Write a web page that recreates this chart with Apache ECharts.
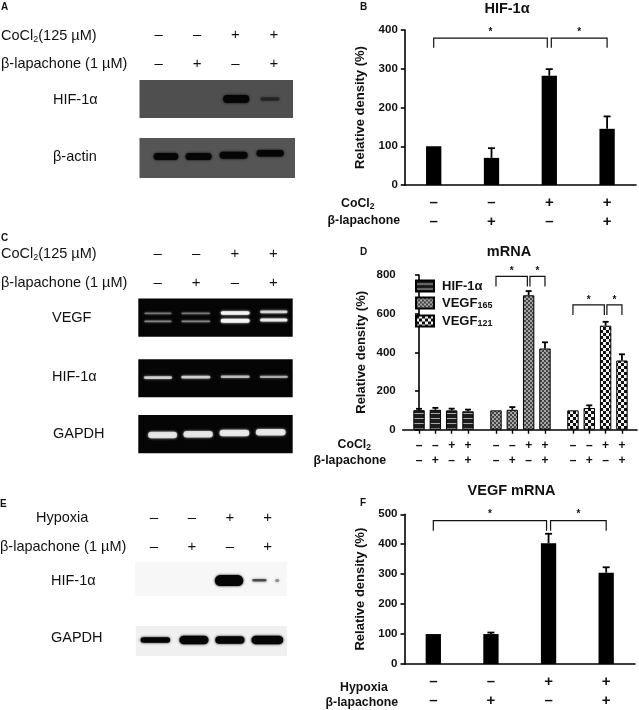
<!DOCTYPE html>
<html><head><meta charset="utf-8">
<style>html,body{margin:0;padding:0;background:#fff}#c{width:639px;height:710px;filter:blur(0.4px)}</style>
<script src="https://cdn.jsdelivr.net/npm/echarts@6/dist/echarts.min.js"></script>
</head><body><div id="c"></div>
<script>
// ---------- data ----------
const condCo = ['–','–','+','+'];
const condLap = ['–','+','–','+'];
const condHyp = ['–','–','+','+'];

const hifMean = [100,70,282,145];
const hifTop  = [100,95,299,177];

const mrnaHif  = [101,103,100,95];
const mrnaHifTop = [108,113,109,104];
const mrna165  = [100,103,695,420];
const mrna165Top = [100,117,717,452];
const mrna121  = [100,112,538,358];
const mrna121Top = [100,126,558,390];

const vegfMean = [100,100,403,305];
const vegfTop  = [100,105,435,323];

// brackets: from, to, top value, low value, inset at from, inset at to
const hifBrackets  = [[0,2,379,354,0,1],[2,3,379,354,1,0]];
const vegfBrackets = [[0,2,479,445,0,1],[2,3,479,445,1,0]];
// mRNA brackets: group, bar from, bar to, top, low, insets
const mrnaBrackets = [[1,0,2,793,740,0,1],[1,2,3,793,740,1,0],[2,0,2,645,593,0,1],[2,2,3,645,593,1,0]];

// blot bands: lane position, height fraction, lane width, thickness, strength
const bandsAHif = [[2.52,.50,.68,8,1],[3.40,.50,.50,3.5,.4]];
const bandsAAct = [[.68,.46,.63,7,1],[1.52,.46,.67,7,1],[2.42,.43,.72,7,1],[3.36,.38,.70,6.5,1]];
const bandsCVegf = [[.51,.39,.71,1.6,.36],[.51,.60,.71,1.8,.42],[1.49,.39,.75,1.6,.36],[1.49,.60,.75,1.8,.42],
  [2.51,.38,.75,3.6,1],[2.51,.58,.75,4,1],[3.51,.35,.71,2.6,.75],[3.51,.56,.71,3,.9]];
const bandsCHif = [[.51,.48,.73,2.8,.72],[1.49,.47,.75,2.8,.72],[2.51,.46,.75,2.6,.62],[3.51,.46,.73,2.2,.55]];
const bandsCGapdh = [[.63,.52,.75,6.5,.82],[1.55,.50,.76,6.5,.82],[2.49,.47,.77,6.5,.85],[3.43,.45,.77,6.5,.85]];
const bandsEHif = [[2.48,.55,.75,11,1],[3.28,.54,.38,2.6,.55],[3.75,.55,.11,3,.3]];
const bandsEGapdh = [[.52,.47,.78,5.5,1],[1.54,.47,.77,8.5,1],[2.49,.47,.77,7.5,1],[3.48,.47,.84,8.5,1]];

const FONT = '"Liberation Sans", Arial, sans-serif';

// ---------- fill patterns ----------
function tile(w,h,draw){const c=document.createElement('canvas');c.width=w;c.height=h;draw(c.getContext('2d'));return {image:c,repeat:'repeat'};}
const patHif = tile(2,5,g=>{g.fillStyle='#1c1c1c';g.fillRect(0,0,2,5);g.fillStyle='#a8a8a8';g.fillRect(0,3,2,1);});
const pat165 = tile(4,4,g=>{g.fillStyle='#a6a6a6';g.fillRect(0,0,4,4);g.fillStyle='#444';g.fillRect(0,0,2,2);g.fillRect(2,2,2,2);});
const pat121 = tile(6,6,g=>{g.fillStyle='#f2f2f2';g.fillRect(0,0,6,6);g.fillStyle='#111';g.fillRect(0,0,3,3);g.fillRect(3,3,3,3);});

// ---------- layout ----------
const grids = [], xAxes = [], yAxes = [], series = [];
function addGrid(left,right,top,bottom,bg){
  grids.push({left,top,width:right-left,height:bottom-top,show:!!bg,backgroundColor:bg||'transparent',borderWidth:0,containLabel:false});
  return grids.length-1;
}
function blot(left,right,top,bottom,bg,bands,color,rows){
  const g = addGrid(left,right,top,bottom,bg);
  const xi = xAxes.length;
  xAxes.push({gridIndex:g,type:'value',min:0,max:4,show:false});
  yAxes.push({gridIndex:g,type:'value',min:0,max:1,inverse:true,show:false});
  series.push({type:'custom',xAxisIndex:xi,yAxisIndex:yAxes.length-1,silent:true,data:bands,
    renderItem(p,api){
      const c=api.coord([api.value(0),api.value(1)]);
      const w=api.size([api.value(2),0])[0], h=api.value(3);
      return {type:'rect',shape:{x:c[0]-w/2,y:c[1]-h/2,width:w,height:h,r:h/2},
        style:{fill:color,opacity:api.value(4),shadowBlur:2.5,shadowColor:color}};
    }});
  if(rows){
    const cats=rows[0].map((_,i)=>rows.map(r=>r[i]).join('\n'));
    xAxes.push({gridIndex:g,type:'category',position:'top',data:cats,axisLine:{show:false},axisTick:{show:false},
      axisLabel:{interval:0,margin:rows.margin||1,lineHeight:rows.lh||29,fontFamily:FONT,fontSize:15,color:'#111'}});
  }
}
function errorBars(xi,yi,xs,means,tops,cap){
  series.push({type:'custom',xAxisIndex:xi,yAxisIndex:yi,silent:true,z:1,
    data:means.map((m,i)=>[xs(i),m,tops[i]]),
    renderItem(p,api){
      if(api.value(2)<=api.value(1)) return null;
      const a=api.coord([api.value(0),api.value(1)]), b=api.coord([api.value(0),api.value(2)]);
      const s={stroke:'#000',lineWidth:1.8,fill:null};
      return {type:'group',children:[
        {type:'line',shape:{x1:a[0],y1:a[1],x2:b[0],y2:b[1]},style:s},
        {type:'line',shape:{x1:b[0]-cap/2,y1:b[1],x2:b[0]+cap/2,y2:b[1]},style:s}]};
    }});
}
function bracketSeries(xi,yi,rows,starSize){
  series.push({type:'custom',xAxisIndex:xi,yAxisIndex:yi,silent:true,z:3,data:rows,
    renderItem(p,api){
      const INS=2;
      const f=api.value(0), t=api.value(1), top=api.value(2), low=api.value(3);
      const x1=api.coord([f,top])[0]+api.value(4)*INS, x2=api.coord([t,top])[0]-api.value(5)*INS;
      const y1=api.coord([f,top])[1], y2=api.coord([f,low])[1];
      return {type:'group',children:[
        {type:'polyline',shape:{points:[[x1,y2],[x1,y1],[x2,y1],[x2,y2]]},style:{stroke:'#111',lineWidth:1.2,fill:null}},
        {type:'text',style:{x:(x1+x2)/2,y:y1-1,text:'*',fill:'#111',font:'bold '+starSize+'px '+FONT,align:'center',verticalAlign:'bottom'}}]};
    }});
}
function axisY(g,max,interval,nameGap){
  return {gridIndex:g,type:'value',min:0,max,interval,
    name:'Relative density (%)',nameLocation:'middle',nameGap,nameRotate:90,
    nameTextStyle:{fontFamily:FONT,fontWeight:'bold',fontSize:13,color:'#111'},
    axisLine:{show:true,lineStyle:{color:'#000',width:1.6}},
    axisTick:{show:true,length:4,lineStyle:{color:'#000',width:1.6}},
    axisLabel:{margin:7,fontFamily:FONT,fontWeight:'bold',fontSize:11.5,color:'#111'},
    splitLine:{show:false}};
}
function simpleBars(left,right,top,bottom,rows,means,tops,max,interval,brackets){
  const g=addGrid(left,right,top,bottom);
  const cats=rows[0].map((_,i)=>rows.map(r=>r[i]).join('\n'));
  const xi=xAxes.length, yi=yAxes.length;
  xAxes.push({gridIndex:g,type:'category',data:cats,
    axisLine:{lineStyle:{color:'#000',width:1.6}},
    axisTick:{alignWithLabel:true,length:5,lineStyle:{color:'#000',width:1.6}},
    axisLabel:{interval:0,margin:9,lineHeight:18.5,fontFamily:FONT,fontWeight:'bold',fontSize:15,color:'#111'}});
  yAxes.push(axisY(g,max,interval,38));
  series.push({type:'bar',xAxisIndex:xi,yAxisIndex:yi,barWidth:15.3,silent:true,data:means,itemStyle:{color:'#000'}});
  errorBars(xi,yi,i=>i,means,tops,7);
  bracketSeries(xi,yi,brackets,10);
}

// --- blots
const rowsA=[condCo,condLap]; rowsA.margin=1.5; rowsA.lh=29;
blot(139.5,293,80,118,'#4f4f4f',bandsAHif,'#050505',rowsA);
blot(139.5,295,138,178,'#555555',bandsAAct,'#050505');
const rowsC=[condCo,condLap]; rowsC.margin=1; rowsC.lh=29;
blot(138.3,292.7,298.5,336.7,'#050505',bandsCVegf,'#f4f4f4',rowsC);
blot(138.3,292.7,359.3,397.3,'#050505',bandsCHif,'#f0f0f0');
blot(138.3,292.7,415,453.3,'#050505',bandsCGapdh,'#f0f0f0');
const rowsE=[condHyp,condLap]; rowsE.margin=1; rowsE.lh=28.5;
blot(135,286.7,561.7,596,'#f7f7f7',bandsEHif,'#050505',rowsE);
blot(135.7,287,626,656,'#f0f0f0',bandsEGapdh,'#050505');

// --- charts B and F
simpleBars(404.8,636,30,185,[condCo,condLap],hifMean,hifTop,400,100,hifBrackets);
simpleBars(404.5,635,514.3,667.7,[condHyp,condLap],vegfMean,vegfTop,500,100,vegfBrackets);

// --- chart D (three groups of four bars)
const GROUP_STEP = 4.714;
const pos = (g,i)=>g*GROUP_STEP+i;
const mrnaX = [0,1,2].flatMap(g=>[0,1,2,3].map(i=>pos(g,i)));
const mrnaRows = [condCo,condCo,condCo].flat().map((c,i)=>c+'\n'+[condLap,condLap,condLap].flat()[i]);
const gD = addGrid(402.7,637,275,429.7);
const xD = xAxes.length, yD = yAxes.length;
xAxes.push({gridIndex:gD,type:'value',min:-1,max:13.35,splitLine:{show:false},
  axisLine:{lineStyle:{color:'#000',width:1.6}},
  axisTick:{customValues:mrnaX,length:4,lineStyle:{color:'#000',width:1.4}},
  axisLabel:{customValues:mrnaX,margin:8,lineHeight:15,fontFamily:FONT,fontWeight:'bold',fontSize:12,color:'#111',
    formatter:v=>mrnaRows[mrnaX.indexOf(v)]}});
yAxes.push(axisY(gD,800,200,34.5));
[['HIF-1α',mrnaHif,mrnaHifTop,patHif,0],['VEGF165',mrna165,mrna165Top,pat165,1],['VEGF121',mrna121,mrna121Top,pat121,2]].forEach(([name,vals,tops,pat,g])=>{
  series.push({name,type:'bar',xAxisIndex:xD,yAxisIndex:yD,barWidth:11.4,barGap:'-100%',silent:true,
    data:vals.map((v,i)=>[pos(g,i),v]),itemStyle:{color:pat,borderColor:'#000',borderWidth:1}});
  errorBars(xD,yD,i=>pos(g,i),vals,tops,6);
});
series.push({type:'custom',xAxisIndex:xD,yAxisIndex:yD,silent:true,z:3,data:mrnaBrackets,
  renderItem(p,api){
    const INS=1.3, g=api.value(0);
    const top=api.value(3), low=api.value(4);
    const x1=api.coord([pos(g,api.value(1)),top])[0]+api.value(5)*INS;
    const x2=api.coord([pos(g,api.value(2)),top])[0]-api.value(6)*INS;
    const y1=api.coord([pos(g,0),top])[1], y2=api.coord([pos(g,0),low])[1];
    return {type:'group',children:[
      {type:'polyline',shape:{points:[[x1,y2],[x1,y1],[x2,y1],[x2,y2]]},style:{stroke:'#111',lineWidth:1.2,fill:null}},
      {type:'text',style:{x:(x1+x2)/2,y:y1,text:'*',fill:'#111',font:'bold 10px '+FONT,align:'center',verticalAlign:'bottom'}}]};
  }});

// ---------- text ----------
function txt(x,y,text,size,bold,align,rich){
  return {type:'text',silent:true,x,y,style:{text,fill:'#111',font:(bold?'bold ':'')+size+'px '+FONT,
    align:align||'left',verticalAlign:'middle',rich:rich}};
}
const subN = {sub:{fontSize:9,padding:[7,0,0,0],fontFamily:FONT,fill:'#111'}};
const subB = {sub:{fontSize:8.5,fontWeight:'bold',padding:[6,0,0,0],fontFamily:FONT,fill:'#111'}};
const texts = [
 txt(1,7,'A',10,true), txt(360,7,'B',10,true), txt(1,238,'C',10,true), txt(360,252,'D',10,true),
 txt(0,504,'E',10,true), txt(360,503,'F',10,true),
 txt(507,9,'HIF-1α',14.5,true,'center'), txt(509,252,'mRNA',14.5,true,'center'), txt(511.5,491,'VEGF mRNA',14.5,true,'center'),
 txt(1,36,'CoCl{sub|2}(125 µM)',14.5,false,'left',subN), txt(1,64,'β-lapachone (1 µM)',14.5),
 txt(53,100,'HIF-1α',14.5), txt(53,157,'β-actin',14.5),
 txt(1,254,'CoCl{sub|2}(125 µM)',14.5,false,'left',subN), txt(1,283,'β-lapachone (1 µM)',14.5),
 txt(52,318,'VEGF',14.5), txt(52,377,'HIF-1α',14.5), txt(53,434,'GAPDH',14.5),
 txt(36,518,'Hypoxia',14.5), txt(0,547,'β-lapachone (1 µM)',14.5),
 txt(51,581,'HIF-1α',14.5), txt(51,638,'GAPDH',14.5),
 txt(341,204,'CoCl{sub|2}',12.3,true,'left',subB), txt(400,221,'β-lapachone',12.3,true,'right'),
 txt(371,445,'CoCl{sub|2}',12.3,true,'right',subB), txt(386,461,'β-lapachone',12.3,true,'right'),
 txt(340,688,'Hypoxia',12.3,true), txt(398,703,'β-lapachone',12.3,true,'right')
];

const chart = echarts.init(document.getElementById('c'),null,{renderer:'canvas'});
chart.setOption({
  animation:false,
  backgroundColor:'#fff',
  grid:grids,xAxis:xAxes,yAxis:yAxes,series,
  legend:{show:true,data:['HIF-1α','VEGF165','VEGF121'],orient:'vertical',left:415,top:279.5,padding:0,icon:'rect',itemWidth:18,itemHeight:11,itemGap:4,
    selectedMode:false,
    formatter:n=>n.startsWith('VEGF')?'VEGF{sub|'+n.slice(4)+'}':n,
    textStyle:{fontFamily:FONT,fontWeight:'bold',fontSize:13,color:'#111',padding:[0,0,0,3],
      rich:{sub:{fontSize:9,fontWeight:'bold',fontFamily:FONT,color:'#111',padding:[6,0,0,0]}}}},
  graphic:{elements:texts}
});
</script></body></html>
